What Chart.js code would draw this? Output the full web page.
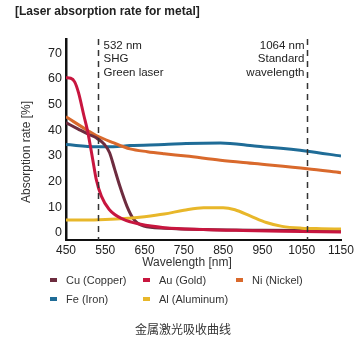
<!DOCTYPE html>
<html>
<head>
<meta charset="utf-8">
<script src="https://cdn.jsdelivr.net/npm/chart.js@4/dist/chart.umd.min.js"></script>
<style>
    body { margin: 0; background: #fff; }
    #wrap { position: relative; width: 360px; height: 340px; font-family: "Liberation Sans", Arial, sans-serif; color: #333; }
    #chart { position: absolute; left: 0; top: 0; }
    #title { position: absolute; left: 15px; top: 4px; font-size: 12px; font-weight: bold; color: #222; }
    #legend { position: absolute; left: 0; top: 274px; width: 360px; font-size: 11px; }
    .item { position: absolute; white-space: nowrap; }
    .item i { display: inline-block; width: 7px; height: 4px; margin-right: 9px; vertical-align: middle; position: relative; top: -1px; }
    #caption { position: absolute; left: 0; width: 366px; top: 320px; text-align: center; font-size: 12px; font-family: "Noto Sans CJK SC", sans-serif; color: #333; }
</style>
</head>
<body>
<div id="wrap">
    <canvas id="chart" width="360" height="340"></canvas>
    <div id="title">[Laser absorption rate for metal]</div>
    <div id="legend"></div>
    <div id="caption">金属激光吸收曲线</div>
</div>
<script>
// Absorption [%] against wavelength [nm], one pair of arrays per metal
var cuNm  = [450, 480, 508, 527, 548, 561, 574, 587, 605, 622, 648, 700, 800, 950, 1150];
var cuAbs = [42.9, 40.5, 38.3, 37, 34.4, 31.2, 24.7, 18.2, 10.4, 5.3, 2.6, 1.8, 1.3, 1.0, 0.8];

var auNm  = [450, 462, 472, 482, 495, 505, 518, 527, 540, 560, 595, 640, 700, 800, 900, 1000, 1150];
var auAbs = [60.4, 60.2, 58.8, 54.5, 46, 39.6, 28.6, 20.8, 14.3, 9.1, 5.3, 3.3, 2.0, 1.3, 0.9, 0.6, 0.3];

var niNm  = [450, 508, 527, 570, 613, 657, 700, 756, 843, 930, 1064, 1150];
var niAbs = [45.2, 39.6, 37.9, 35.1, 32.7, 31.6, 30.8, 29.9, 28.3, 27, 25, 23.4];

var feNm  = [450, 527, 570, 613, 700, 756, 843, 930, 1064, 1150];
var feAbs = [34.4, 33.5, 33.5, 34, 34.4, 34.8, 35, 33.8, 31.8, 29.9];

var alNm  = [450, 500, 550, 600, 650, 700, 750, 800, 850, 880, 920, 960, 1000, 1050, 1100, 1150];
var alAbs = [5, 5, 5.2, 5.6, 6.3, 7.3, 8.8, 9.8, 9.8, 9, 6.5, 4, 2.5, 1.8, 1.6, 1.5];

var metalNames  = ['Cu (Copper)', 'Au (Gold)', 'Ni (Nickel)', 'Fe (Iron)', 'Al (Aluminum)'];
var metalColors = ['#6d2c3f', '#c8163f', '#d9692c', '#1f6c97', '#e8b72a'];

var xTicks = [450, 550, 650, 750, 850, 950, 1050, 1150];
var yTicks = [0, 10, 20, 30, 40, 50, 60, 70];

// Marked laser wavelengths and their captions
var laserNm = [532, 1064];
var laserText = [['532 nm', 'SHG', 'Green laser'], ['1064 nm', 'Standard', 'wavelength']];

function toPoints(xs, ys) {
    return xs.map(function (x, i) { return { x: x, y: ys[i] }; });
}

var series = [[cuNm, cuAbs], [auNm, auAbs], [niNm, niAbs], [feNm, feAbs], [alNm, alAbs]];

// draw order: Fe and Ni behind, Au on top
var drawOrder = [2, 0, 3, 4, 1];

var datasets = series.map(function (s, i) {
    return {
        label: metalNames[i],
        data: toPoints(s[0], s[1]),
        borderColor: metalColors[i],
        backgroundColor: metalColors[i],
        borderWidth: 3,
        pointRadius: 0,
        cubicInterpolationMode: 'monotone',
        order: drawOrder[i]
    };
});

var labelFont = '12px "Liberation Sans", Arial, sans-serif';

// dashed laser markers plus the two axis titles
var laserLines = {
    id: 'laserLines',
    afterDatasetsDraw: function (chart) {
        var ctx = chart.ctx;
        var xs = chart.scales.x;
        var area = chart.chartArea;
        ctx.save();
        laserNm.forEach(function (nm, i) {
            var px = Math.round(xs.getPixelForValue(nm)) + 0.5;
            ctx.strokeStyle = '#333';
            ctx.lineWidth = 1.5;
            ctx.setLineDash([6, 5]);
            ctx.beginPath();
            ctx.moveTo(px, area.top);
            ctx.lineTo(px, area.bottom);
            ctx.stroke();

            ctx.setLineDash([]);
            ctx.fillStyle = '#222';
            ctx.font = '11.5px "Liberation Sans", Arial, sans-serif';
            ctx.textBaseline = 'middle';
            ctx.textAlign = i === 0 ? 'left' : 'right';
            var tx = i === 0 ? px + 5 : px - 3;
            laserText[i].forEach(function (line, j) {
                ctx.fillText(line, tx, 46 + j * 13.3);
            });
        });

        ctx.fillStyle = '#333';
        ctx.font = labelFont;
        ctx.textAlign = 'center';
        ctx.textBaseline = 'middle';
        ctx.fillText('Wavelength [nm]', 187, 263);

        ctx.translate(27, 152);
        ctx.rotate(-Math.PI / 2);
        ctx.fillText('Absorption rate [%]', 0, 0);
        ctx.restore();
    }
};

var tickFont = { family: '"Liberation Sans", Arial, sans-serif', size: 12 };

var chart = new Chart(document.getElementById('chart'), {
    type: 'line',
    data: { datasets: datasets },
    options: {
        responsive: false,
        animation: false,
        layout: { padding: { left: 0, top: 39, right: 19, bottom: 64 } },
        plugins: {
            legend: { display: false },
            tooltip: { enabled: false }
        },
        scales: {
            x: {
                type: 'linear',
                min: 450,
                max: 1150,
                afterFit: function (s) { s.height = 36; },
                afterBuildTicks: function (s) { s.ticks = xTicks.map(function (v) { return { value: v }; }); },
                grid: { display: false, drawTicks: false },
                border: { display: true, color: '#111', width: 2 },
                ticks: {
                    color: '#222',
                    font: tickFont,
                    padding: 3,
                    maxRotation: 0,
                    autoSkip: false,
                    callback: function (v) { return String(v); }
                }
            },
            y: {
                min: -2.8,
                max: 75.5,
                afterFit: function (s) { s.width = 66; },
                afterBuildTicks: function (s) { s.ticks = yTicks.map(function (v) { return { value: v }; }); },
                grid: { display: false, drawTicks: false },
                border: { display: true, color: '#111', width: 2.5 },
                ticks: { color: '#222', font: { family: tickFont.family, size: 12.5 }, padding: 4 }
            }
        }
    },
    plugins: [laserLines]
});

// Legend below the plot, three columns
var legendPos = [[50, 0], [143, 0], [236, 0], [50, 19], [143, 19]];
var legend = document.getElementById('legend');
metalNames.forEach(function (name, i) {
    var el = document.createElement('div');
    el.className = 'item';
    el.style.left = legendPos[i][0] + 'px';
    el.style.top = legendPos[i][1] + 'px';
    el.innerHTML = '<i style="background:' + metalColors[i] + '"></i>' + name;
    legend.appendChild(el);
});
</script>
</body>
</html>
